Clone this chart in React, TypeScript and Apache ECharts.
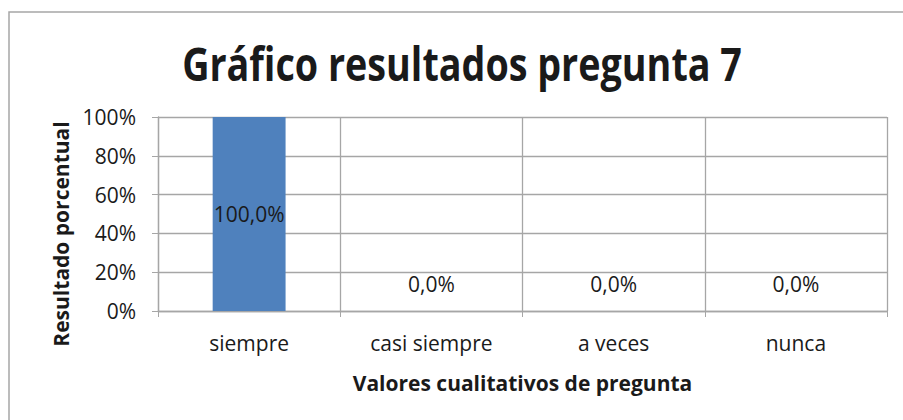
import React, { useEffect, useRef } from "react";
import * as echarts from "echarts";

const categories = ["siempre", "casi siempre", "a veces", "nunca"];
const values = [100, 0, 0, 0];
const yTicks = [0, 20, 40, 60, 80, 100];
const titleText = "Gráfico resultados pregunta 7";
const xTitle = "Valores cualitativos de pregunta";
const yTitle = "Resultado porcentual";

const FONT = "Open Sans";

export default function App() {
  const ref = useRef<HTMLDivElement>(null);
  useEffect(() => {
    document.body.style.margin = "0";
    const chart = echarts.init(ref.current!, null, { renderer: "svg" });
    chart.setOption({
      animation: false,
      graphic: [
        {
          type: "rect",
          shape: { x: 9, y: 12, width: 1000, height: 600 },
          style: { fill: "none", stroke: "#A6A6A6", lineWidth: 1.5 },
          silent: true,
        },
        {
          type: "text",
          x: 462,
          y: 63,
          scaleX: 0.82,
          style: {
            text: titleText,
            fontFamily: FONT,
            fontWeight: "bold",
            fontSize: 46,
            fill: "#1a1a1a",
            textAlign: "center",
            textVerticalAlign: "middle",
          },
        },
        {
          type: "text",
          x: 61,
          y: 234,
          rotation: Math.PI / 2,
          style: {
            text: yTitle,
            fontFamily: FONT,
            fontWeight: "bold",
            fontSize: 21,
            fill: "#1a1a1a",
            textAlign: "center",
            textVerticalAlign: "middle",
          },
        },
      ],
      grid: { left: 158, right: 16, top: 117, bottom: 109 },
      xAxis: {
        type: "category",
        data: categories,
        name: xTitle,
        nameLocation: "middle",
        nameGap: 61,
        nameTextStyle: { fontFamily: FONT, fontWeight: "bold", fontSize: 21, color: "#1a1a1a" },
        axisLine: { lineStyle: { color: "#A6A6A6", width: 1.3 } },
        axisTick: { show: true, length: 6, lineStyle: { color: "#A6A6A6" } },
        splitLine: { show: true, lineStyle: { color: "#A6A6A6", width: 1.3 } },
        axisLabel: { fontFamily: FONT, fontSize: 21, color: "#1a1a1a", margin: 21 },
      },
      yAxis: {
        type: "value",
        min: 0,
        max: 100,
        interval: 20,
        axisLine: { show: true, lineStyle: { color: "#A6A6A6", width: 1.3 } },
        axisTick: { show: true, length: 6, lineStyle: { color: "#A6A6A6" } },
        splitLine: { show: true, lineStyle: { color: "#A6A6A6", width: 1.3 } },
        axisLabel: {
          fontFamily: FONT,
          fontSize: 21,
          color: "#1a1a1a",
          margin: 22,
          formatter: (v: number) => (yTicks.includes(v) ? v + "%" : ""),
        },
      },
      series: [
        {
          type: "bar",
          data: values.map((v) => ({
            value: v,
            label:
              v > 0
                ? { position: "inside" }
                : { position: "top", distance: 17 },
          })),
          barWidth: "40%",
          itemStyle: { color: "#4F81BD" },
          label: {
            show: true,
            fontFamily: FONT,
            fontSize: 21,
            color: "#1a1a1a",
            formatter: (p: any) => p.value.toFixed(1).replace(".", ",") + "%",
          },
        },
      ],
    });
    return () => chart.dispose();
  }, []);
  return <div ref={ref} style={{ width: 903, height: 420 }} />;
}
